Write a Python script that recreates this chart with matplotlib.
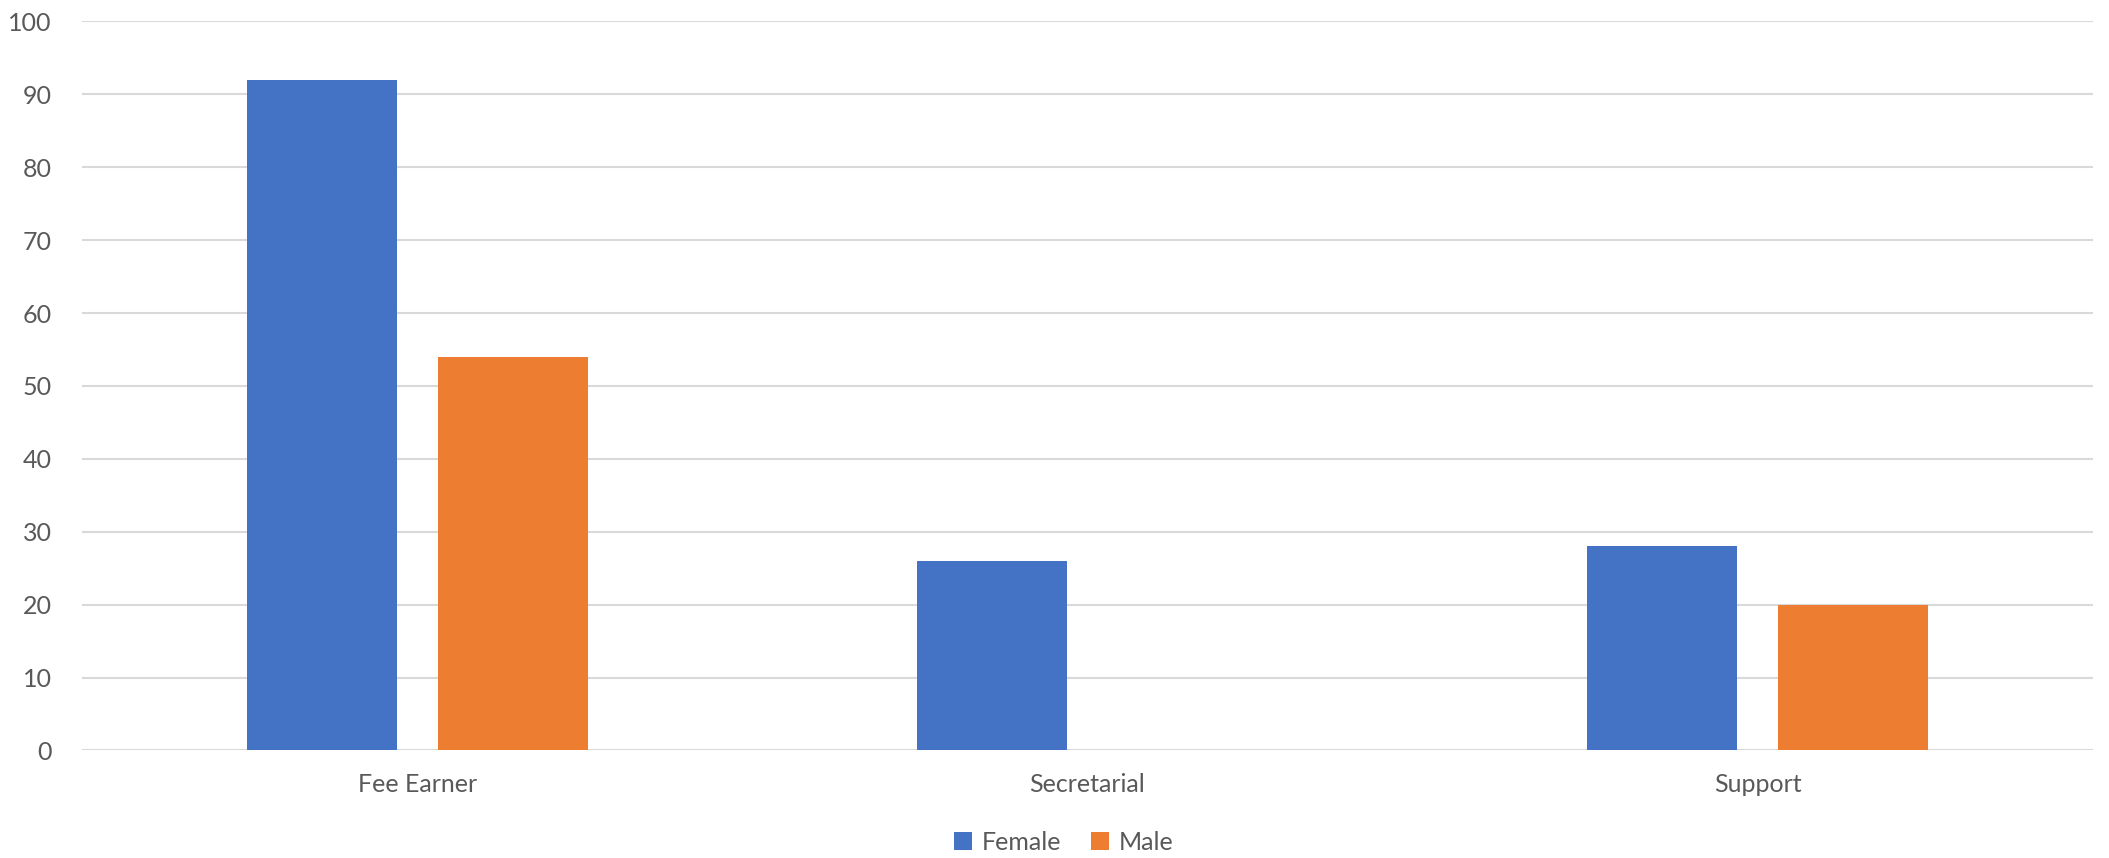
import numpy as np
from matplotlib import pyplot as plt

categories = ['Fee Earner', 'Secretarial', 'Support']
female = [92, 26, 28]
male = [54, 0, 20]
yticks = [0, 10, 20, 30, 40, 50, 60, 70, 80, 90, 100]

plt.rcParams['font.family'] = ['Lato', 'DejaVu Sans']
grey = '#595959'

fig = plt.figure(figsize=(21.09, 8.58), dpi=100)
ax = fig.add_axes([0.0389, 0.1253, 0.9535, 0.8497])

x = np.arange(len(categories))
w = 0.224
off = 0.1425
ax.bar(x - off, female, w, color='#4472C4', label='Female', zorder=3)
ax.bar(x + off, male, w, color='#ED7D31', label='Male', zorder=3)

ax.set_xlim(-0.5, 2.5)
ax.set_ylim(0, 100)
ax.set_yticks(yticks)
ax.set_xticks(x)
ax.set_xticklabels(categories)
ax.grid(axis='y', color='#d9d9d9', linewidth=1.5, zorder=0)
for s in ax.spines.values():
    s.set_visible(False)
ax.tick_params(length=0, labelsize=18, labelcolor=grey)
ax.tick_params(axis='y', pad=22)
ax.tick_params(axis='x', pad=16)

fig.legend(loc='center', bbox_to_anchor=(0.5045, 0.0186), ncol=2, frameon=False,
           fontsize=18, labelcolor=grey, handlelength=0.7, handleheight=0.7,
           handletextpad=0.4, columnspacing=1.2)

fig.savefig('out.png', dpi=100)
